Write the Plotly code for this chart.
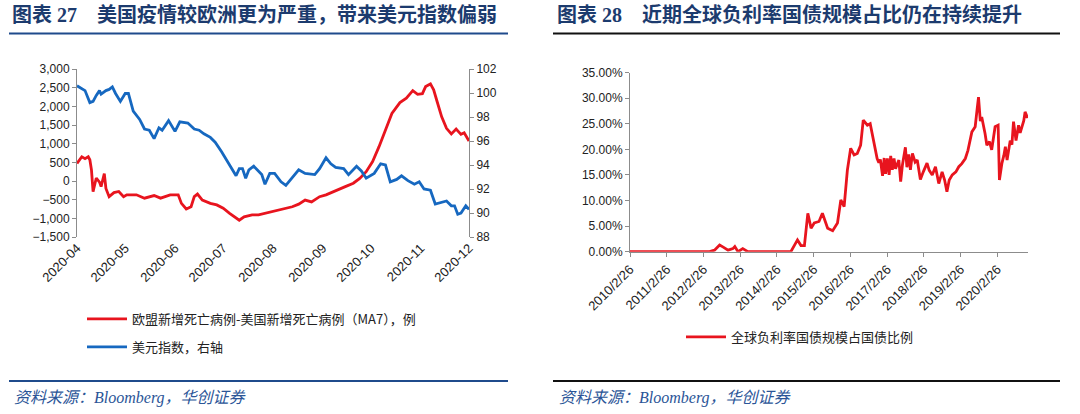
import plotly.graph_objects as go

W, H = 1080, 414

# ---------------- Left chart data ----------------
red_dates = ["2020-04-01","2020-04-04","2020-04-06","2020-04-08","2020-04-09","2020-04-10","2020-04-11",
             "2020-04-13","2020-04-15","2020-04-16","2020-04-18","2020-04-19","2020-04-21","2020-04-24",
             "2020-04-27","2020-04-30","2020-05-02","2020-05-08","2020-05-13","2020-05-19","2020-05-23",
             "2020-05-29","2020-06-03","2020-06-05","2020-06-08","2020-06-11","2020-06-13","2020-06-15",
             "2020-06-18","2020-06-23","2020-06-27","2020-07-01","2020-07-05","2020-07-09","2020-07-11",
             "2020-07-14","2020-07-19","2020-07-23","2020-07-29","2020-08-05","2020-08-13","2020-08-17",
             "2020-08-21","2020-08-25","2020-08-30","2020-09-03","2020-09-09","2020-09-15","2020-09-20",
             "2020-09-24","2020-09-28","2020-10-02","2020-10-06","2020-10-10","2020-10-14","2020-10-19",
             "2020-10-23","2020-10-27","2020-10-30","2020-11-02","2020-11-04","2020-11-07","2020-11-09",
             "2020-11-11","2020-11-14","2020-11-17","2020-11-20","2020-11-23","2020-11-26","2020-11-28",
             "2020-12-01"]
red_vals = [470, 650, 600, 650, 570, 295, -285,
            80, -30, -150, 200, -200, -420, -310,
            -280, -420, -370, -370, -460, -390, -460,
            -370, -370, -600, -750, -690, -420, -350,
            -510, -600, -640, -730, -866, -1000, -1050,
            -960, -910, -910, -850, -780, -690, -620,
            -510, -560, -420, -370, -270, -150, -60,
            70, 250, 520, 920, 1370, 1810, 2100,
            2220, 2420, 2320, 2340, 2530, 2600, 2440,
            2150, 1720, 1410, 1260, 1390, 1250, 1290,
            1070]

blue_dates = ["2020-04-01","2020-04-06","2020-04-09","2020-04-11","2020-04-13","2020-04-15","2020-04-16",
              "2020-04-19","2020-04-21","2020-04-23","2020-04-25","2020-04-28","2020-05-01","2020-05-03",
              "2020-05-06","2020-05-10","2020-05-13","2020-05-16","2020-05-19","2020-05-22","2020-05-24",
              "2020-05-28","2020-06-01","2020-06-04","2020-06-09","2020-06-13","2020-06-16","2020-06-19",
              "2020-06-23","2020-06-26","2020-06-30","2020-07-03","2020-07-06","2020-07-09","2020-07-11",
              "2020-07-13","2020-07-15","2020-07-17","2020-07-20","2020-07-25","2020-07-27","2020-07-30",
              "2020-08-02","2020-08-06","2020-08-09","2020-08-12","2020-08-17","2020-08-21","2020-08-27",
              "2020-08-30","2020-09-03","2020-09-06","2020-09-09","2020-09-14","2020-09-17","2020-09-22",
              "2020-09-25","2020-09-28","2020-10-03","2020-10-07","2020-10-10","2020-10-13","2020-10-17",
              "2020-10-20","2020-10-24","2020-10-28","2020-10-31","2020-11-03","2020-11-07","2020-11-10",
              "2020-11-14","2020-11-17","2020-11-20","2020-11-22","2020-11-24","2020-11-26","2020-11-29",
              "2020-11-30","2020-12-01"]
blue_vals = [100.6, 100.2, 99.2, 99.3, 99.8, 100.2, 99.9,
             100.2, 100.3, 100.5, 99.96, 99.3, 99.96, 99.96,
             98.5, 97.8, 97.0, 96.9, 96.2, 97.1, 96.9,
             97.7, 96.8, 97.6, 97.5, 97.0, 96.9, 96.6,
             96.3, 95.9, 95.1, 94.4, 93.8, 93.1, 93.7,
             93.7, 92.9, 93.6, 93.9, 93.2, 92.4, 93.3,
             93.3, 92.6, 92.3, 92.8, 93.6, 93.3, 93.2,
             93.7, 94.6, 94.1, 93.8, 93.7, 93.2, 93.9,
             93.5, 92.9, 93.3, 94.1, 94.0, 92.6, 92.8,
             93.1, 92.7, 92.4, 92.6, 92.0, 91.9, 90.75,
             90.9, 91.0, 90.6, 90.6, 89.9, 90.0, 90.6,
             90.4, 90.3]

left_ticks = ["2020-04-01","2020-05-01","2020-06-01","2020-07-01","2020-08-01",
              "2020-09-01","2020-10-01","2020-11-01","2020-12-01"]

# ---------------- Right chart data ----------------
neg_dates = ["2010-02-26","2012-04-28","2012-06-15","2012-08-05","2012-09-10","2012-10-28","2012-12-15",
             "2013-01-03","2013-02-04","2013-03-23","2013-05-13","2014-02-18","2014-07-14","2014-09-18",
             "2014-10-23","2014-11-26","2014-12-30","2015-01-31","2015-03-04","2015-04-20","2015-05-24",
             "2015-07-15","2015-09-03","2015-10-21","2015-11-23","2015-12-26","2016-01-27","2016-02-29",
             "2016-04-03","2016-05-05","2016-06-07","2016-07-03","2016-08-13","2016-09-10","2016-11-18",
             "2016-12-05","2016-12-20","2017-01-11","2017-01-27","2017-02-10","2017-02-28","2017-03-17",
             "2017-04-02","2017-04-18","2017-05-05","2017-05-20","2017-06-22","2017-07-10","2017-07-28",
             "2017-08-26","2017-09-10","2017-09-28","2017-10-15","2017-11-04","2017-12-01","2017-12-22",
             "2018-01-22","2018-02-20","2018-03-29","2018-04-20","2018-05-20","2018-06-21","2018-07-05",
             "2018-07-24","2018-08-26","2018-09-20","2018-10-13","2018-11-05","2018-12-05","2019-01-10",
             "2019-02-08","2019-03-10","2019-04-14","2019-05-10","2019-06-18","2019-07-21","2019-08-10",
             "2019-08-23","2019-09-10","2019-09-24","2019-10-27","2019-11-14","2019-12-10","2020-01-01",
             "2020-02-04","2020-03-05","2020-03-18","2020-04-12","2020-05-01","2020-05-16","2020-06-02",
             "2020-06-18","2020-07-03","2020-07-20","2020-08-05","2020-08-30","2020-09-24","2020-10-10",
             "2020-10-27","2020-11-15","2020-11-28","2020-12-24"]
neg_vals = [0.0, 0.0, 0.3, 1.3, 0.9, 0.3, 0.6,
            1.0, 0.0, 0.6, 0.0, 0.0, 0.0, 2.3,
            1.2, 1.2, 7.5, 4.6, 5.6, 5.9, 7.5,
            4.6, 4.1, 5.6, 10.1, 8.8, 15.9, 20.2,
            18.9, 19.2, 20.8, 25.7, 24.7, 25.0, 18.2,
            17.4, 18.0, 14.8, 18.3, 15.2, 18.2, 15.0,
            18.7, 16.0, 18.2, 16.2, 17.9, 13.7, 17.0,
            20.4, 16.5, 19.0, 16.0, 19.2, 17.5, 17.9,
            14.1, 15.6, 17.3, 15.9, 15.0, 16.6, 14.8,
            13.3, 15.6, 14.0, 11.7, 14.0, 15.0, 15.6,
            16.6, 17.2, 18.2, 19.8, 23.4, 24.4, 28.0,
            30.2, 25.5, 26.3, 23.1, 20.8, 21.5, 19.9,
            24.4, 24.7, 14.0, 17.3, 18.8, 20.5, 17.9,
            20.3, 21.7, 20.9, 25.4, 21.7, 24.7, 23.2,
            24.4, 25.6, 27.3, 26.1]
neg_share = [v / 100 for v in neg_vals]

right_tickvals = ["2010-02-26","2011-02-26","2012-02-26","2013-02-26","2014-02-26","2015-02-26",
                  "2016-02-26","2017-02-26","2018-02-26","2019-02-26","2020-02-26"]
right_ticktext = ["2010/2/26","2011/2/26","2012/2/26","2013/2/26","2014/2/26","2015/2/26",
                  "2016/2/26","2017/2/26","2018/2/26","2019/2/26","2020/2/26"]

# ---------------- Styling ----------------
RED = "#E8141E"
BLUE = "#1668C0"
NAVY = "#1C3B6E"
AX = "#8C8C8C"
SANS = "Liberation Sans, Arial, Noto Sans CJK SC"
CJK = "Noto Sans CJK SC"
SERIF = "Liberation Serif, Noto Sans CJK SC"

def px(v):  # paper x from pixel
    return v / W

def py(v):  # paper y from pixel (top origin)
    return 1 - v / H

L_RANGE = [-1500, 3000]
Lx0, Lx1, Ly0, Ly1 = px(77), px(469), py(237), py(69)
zero_pos = Ly0 + (Ly1 - Ly0) * (0 - L_RANGE[0]) / (L_RANGE[1] - L_RANGE[0])

Rx0, Rx1, Ry0, Ry1 = px(630), px(1028), py(251.7), py(72.5)

fig = go.Figure()

fig.add_trace(go.Scatter(x=red_dates, y=red_vals, mode="lines", xaxis="x", yaxis="y",
                         line=dict(color=RED, width=2.8),
                         name="欧盟新增死亡病例-美国新增死亡病例（MA7），例",
                         legend="legend", legendgroup="a"))
fig.add_trace(go.Scatter(x=blue_dates, y=blue_vals, mode="lines", xaxis="x", yaxis="y2",
                         line=dict(color=BLUE, width=2.8),
                         name="美元指数，右轴", legend="legend", legendgroup="b"))
fig.add_trace(go.Scatter(x=neg_dates, y=neg_share, mode="lines", xaxis="x3", yaxis="y3",
                         line=dict(color=RED, width=2.8),
                         name="全球负利率国债规模占国债比例", legend="legend2"))

tickfont = dict(family=SANS, size=12, color="#222")

fig.update_layout(
    width=W, height=H,
    margin=dict(l=0, r=0, t=0, b=0, pad=0),
    paper_bgcolor="white", plot_bgcolor="white",
    showlegend=True,
    xaxis=dict(domain=[Lx0, Lx1], anchor="y", type="date", automargin=False,
               range=[left_ticks[0], left_ticks[-1]],
               tickvals=left_ticks, tickformat="%Y-%m", tickangle=-45,
               showline=False, ticks="", showgrid=False, zeroline=False,
               tickfont=dict(family=SANS, size=13, color="#222")),
    xaxis2=dict(overlaying="x", matches="x", anchor="free", position=zero_pos, type="date",
                automargin=False,
                range=[left_ticks[0], left_ticks[-1]], tickvals=left_ticks,
                showticklabels=False, showline=True, linecolor=AX, linewidth=1,
                ticks="outside", ticklen=4, tickcolor=AX, showgrid=False, zeroline=False),
    yaxis=dict(domain=[Ly0, Ly1], anchor="x", range=L_RANGE, dtick=500, tickformat=",",
               automargin=False,
               showline=True, linecolor=AX, linewidth=1, ticks="outside", ticklen=4,
               tickcolor=AX, showgrid=False, zeroline=False, tickfont=tickfont),
    yaxis2=dict(overlaying="y", side="right", anchor="x", range=[88, 102], dtick=2,
                automargin=False,
                showline=True, linecolor=AX, linewidth=1, ticks="outside", ticklen=4,
                tickcolor=AX, showgrid=False, zeroline=False, tickfont=tickfont),
    xaxis3=dict(domain=[Rx0, Rx1], anchor="y3", type="date", automargin=False,
                range=["2010-02-26", "2020-12-27"],
                tickvals=right_tickvals, ticktext=right_ticktext, tickangle=-45,
                showline=True, linecolor=AX, linewidth=1, ticks="outside", ticklen=4,
                tickcolor=AX, showgrid=False, zeroline=False,
                tickfont=dict(family=SANS, size=13, color="#222")),
    yaxis3=dict(domain=[Ry0, Ry1], anchor="x3", range=[0, 0.35], dtick=0.05, tickformat=".2%",
                automargin=False,
                showline=True, linecolor=AX, linewidth=1, ticks="outside", ticklen=4,
                tickcolor=AX, showgrid=False, zeroline=False, tickfont=tickfont),
    legend=dict(x=px(82), y=py(304), xanchor="left", yanchor="top",
                font=dict(family=CJK, size=13, color="#222"),
                traceorder="grouped", tracegroupgap=8, itemwidth=40,
                bgcolor="rgba(0,0,0,0)"),
    legend2=dict(x=px(681), y=py(322), xanchor="left", yanchor="top",
                 font=dict(family=CJK, size=13, color="#222"), itemwidth=40,
                 bgcolor="rgba(0,0,0,0)"),
)

# Titles
fig.add_annotation(text="<b>图表 27    美国疫情较欧洲更为严重，带来美元指数偏弱</b>",
                   xref="paper", yref="paper", x=px(10), y=py(14), xanchor="left", yanchor="middle",
                   showarrow=False, font=dict(family=SERIF, size=20, color=NAVY))
fig.add_annotation(text="<b>图表 28    近期全球负利率国债规模占比仍在持续提升</b>",
                   xref="paper", yref="paper", x=px(555), y=py(14), xanchor="left", yanchor="middle",
                   showarrow=False, font=dict(family=SERIF, size=20, color=NAVY))

# Footers
for x0 in (12, 557):
    fig.add_annotation(text="<i>资料来源：Bloomberg，华创证券</i>",
                       xref="paper", yref="paper", x=px(x0), y=py(398), xanchor="left", yanchor="middle",
                       showarrow=False, font=dict(family=SERIF, size=16, color="#2B5597"))

# Rules under titles and above footers
fig.add_shape(type="line", xref="paper", yref="paper", x0=px(9), x1=px(508), y0=py(33.5), y1=py(33.5),
              line=dict(color="#1F4B8C", width=2.2))
fig.add_shape(type="line", xref="paper", yref="paper", x0=px(553), x1=px(1060), y0=py(33.5), y1=py(33.5),
              line=dict(color="#111111", width=2.2))
fig.add_shape(type="line", xref="paper", yref="paper", x0=px(9), x1=px(508), y0=py(381), y1=py(381),
              line=dict(color="#1F4B8C", width=2.2))
fig.add_shape(type="line", xref="paper", yref="paper", x0=px(553), x1=px(1060), y0=py(381), y1=py(381),
              line=dict(color="#111111", width=2.2))

# Remove the browser's default 8px page margin so the figure fills the window exactly
fig.write_html("out.html", config={"displayModeBar": False},
               post_script="document.body.style.margin='0';")
